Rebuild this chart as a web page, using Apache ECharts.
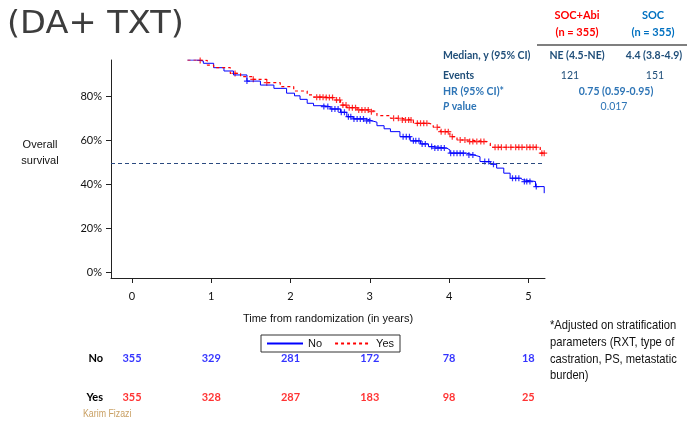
<!DOCTYPE html>
<html><head><meta charset="utf-8">
<script src="https://cdn.jsdelivr.net/npm/echarts@6/dist/echarts.min.js"></script>
<style>html,body{margin:0;padding:0;background:#fff}#c{width:687px;height:421px}</style>
</head><body><div id="c"></div>
<script>
// ---- data ----
const xTicks = [0, 1, 2, 3, 4, 5];
const yTicks = [0, 20, 40, 60, 80];
const noTimes = [0.70,0.84,0.90,1.03,1.16,1.28,1.45,1.62,1.79,1.95,2.05,2.12,2.21,2.29,2.42,2.50,2.63,2.71,2.79,2.96,3.03,3.09,3.18,3.26,3.38,3.51,3.64,3.74,3.80,3.97,4.01,4.22,4.31,4.39,4.52,4.60,4.69,4.77,4.90,4.93,5.09,5.20];
const noSurv  = [96.5,96.0,95.0,93.0,91.5,89.7,86.9,85.1,83.6,81.4,80.2,78.6,76.8,75.7,75.3,74.2,72.7,70.7,69.7,68.8,68.2,66.6,65.2,63.9,61.6,59.7,58.3,57.1,56.4,55.6,54.1,53.3,52.5,50.3,49.1,47.3,45.0,42.7,42.0,41.2,38.9,35.9];
const yesTimes = [0.70,0.86,0.95,1.03,1.24,1.37,1.53,1.70,1.87,2.04,2.21,2.29,2.42,2.54,2.63,2.71,2.84,3.00,3.09,3.26,3.38,3.55,3.74,3.80,3.89,4.01,4.10,4.22,4.48,4.52,5.15,5.21];
const yesSurv  = [96.5,96.3,94.2,93.0,90.4,88.9,87.7,86.2,84.4,82.4,80.6,79.6,79.4,78.3,76.0,74.8,73.8,73.0,71.2,70.0,69.2,67.7,67.2,65.9,63.9,61.6,60.1,59.4,58.6,56.8,54.1,54.1];
const noCensor = [1.45,2.42,2.47,2.52,2.56,2.60,2.64,2.68,2.73,2.76,2.80,2.84,2.88,2.92,2.96,3.00,3.42,3.46,3.50,3.55,3.58,3.62,3.66,3.70,3.78,3.82,3.86,3.90,3.94,4.02,4.06,4.10,4.14,4.18,4.25,4.30,4.45,4.50,4.56,4.80,4.84,4.88,4.95,4.98,5.02,5.10];
const yesCensor = [0.86,1.30,1.53,1.70,2.33,2.37,2.41,2.45,2.49,2.53,2.58,2.62,2.66,2.70,2.74,2.78,2.82,2.86,2.90,2.94,2.98,3.02,3.30,3.36,3.41,3.45,3.49,3.52,3.60,3.64,3.68,3.72,3.85,3.90,3.95,3.99,4.04,4.14,4.20,4.26,4.30,4.35,4.40,4.44,4.58,4.62,4.66,4.72,4.78,4.84,4.88,4.92,4.98,5.02,5.06,5.10,5.17,5.20];
const medianLevel = 49.3;
const riskTimes = [0, 1, 2, 3, 4, 5];
const riskNo  = [355, 329, 281, 172, 78, 18];
const riskYes = [355, 328, 287, 183, 98, 25];
const groupNames = ['No', 'Yes'];
const tableRowLabels = ['Median, y (95% CI)', 'Events', 'HR (95% CI)*', 'P value'];
const tableAbi = ['NE (4.5-NE)', '121'];
const tableSoc = ['4.4 (3.8-4.9)', '151'];
const tableHR = '0.75 (0.59-0.95)';
const tableP = '0.017';
const footnoteLines = ['*Adjusted on stratification', 'parameters (RXT, type of', 'castration, PS, metastatic', 'burden)'];

// ---- build ----
const BLUE = '#0000ff', RED = '#ff0000';
const SANS = '"Liberation Sans",Arial,sans-serif';
const CAL = 'Lato,"Open Sans",sans-serif';
function pairs(t, s) { return t.map((v, i) => [v, s[i]]); }
function survAt(t, times, surv) { let v = surv[0]; for (let i = 0; i < times.length; i++) { if (times[i] <= t) v = surv[i]; } return v; }
const plus = 'path://M2,0h1v2h2v1h-2v2h-1v-2h-2v-1h2z';
function narrowText(x, y, text, size, color, sx) {
  return { type: 'text', x: x, y: y, scaleX: sx, style: { text: text, fill: color, font: size + 'px ' + SANS, verticalAlign: 'middle' } };
}

const chart = echarts.init(document.getElementById('c'), null, { renderer: 'canvas' });
const option = {
  animation: false,
  backgroundColor: '#fff',
  grid: [
    { left: 111, right: 142, top: 60, bottom: 143 },
    { left: 111, right: 142, top: 338.5, height: 78 }
  ],
  xAxis: [
    { type: 'value', gridIndex: 0, min: -0.265, max: 5.21,
      axisLine: { onZero: false, lineStyle: { color: '#222', width: 1 } },
      axisTick: { customValues: xTicks, length: 5, lineStyle: { color: '#222' } },
      axisLabel: { customValues: xTicks, margin: 13, color: '#111', fontSize: 11, fontFamily: CAL },
      splitLine: { show: false },
      name: 'Time from randomization (in years)', nameLocation: 'middle', nameGap: 35,
      nameTextStyle: { color: '#111', fontSize: 11, fontFamily: SANS } },
    { type: 'value', gridIndex: 1, min: -0.265, max: 5.21, show: false }
  ],
  yAxis: [
    { type: 'value', gridIndex: 0, min: -2.7, max: 96.5,
      axisLine: { show: true, onZero: false, lineStyle: { color: '#222', width: 1 } },
      axisTick: { show: true, customValues: yTicks, length: 5, lineStyle: { color: '#222' } },
      axisLabel: { customValues: yTicks, formatter: '{value}%', margin: 9, color: '#111', fontSize: 11, fontFamily: CAL },
      splitLine: { show: false } },
    { type: 'category', gridIndex: 1, data: ['Yes', 'No'],
      axisLine: { show: false }, axisTick: { show: false },
      axisLabel: { margin: 8, color: '#000', fontWeight: 'bold', fontSize: 11, fontFamily: CAL } }
  ],
  legend: {
    data: groupNames, left: 261, top: 335, orient: 'horizontal',
    padding: [3, 6, 3, 5], itemWidth: 36, itemHeight: 10, itemGap: 12,
    borderColor: '#333', borderWidth: 1, borderRadius: 0,
    itemStyle: { opacity: 0 },
    textStyle: { color: '#111', fontSize: 11, fontFamily: SANS }
  },
  series: [
    { name: 'No', type: 'line', step: 'end', xAxisIndex: 0, yAxisIndex: 0,
      data: pairs(noTimes, noSurv), symbol: 'none', lineStyle: { color: BLUE, width: 1 }, itemStyle: { color: BLUE },
      markLine: { silent: true, symbol: 'none', label: { show: false },
        lineStyle: { color: '#2b4a80', width: 1, type: [4, 3] }, data: [{ yAxis: medianLevel }] } },
    { name: 'Yes', type: 'line', step: 'end', xAxisIndex: 0, yAxisIndex: 0,
      data: pairs(yesTimes, yesSurv), symbol: 'none', lineStyle: { color: RED, width: 1.2, type: [3, 3] }, itemStyle: { color: RED } },
    { name: 'noCens', type: 'scatter', xAxisIndex: 0, yAxisIndex: 0, symbol: plus, symbolSize: 6,
      itemStyle: { color: BLUE }, data: noCensor.map(t => [t, survAt(t, noTimes, noSurv)]) },
    { name: 'yesCens', type: 'scatter', xAxisIndex: 0, yAxisIndex: 0, symbol: plus, symbolSize: 6,
      itemStyle: { color: RED }, data: yesCensor.map(t => [t, survAt(t, yesTimes, yesSurv)]) },
    { name: 'riskNo', type: 'scatter', xAxisIndex: 1, yAxisIndex: 1, symbolSize: 0,
      data: riskTimes.map((t, i) => [t, 'No', riskNo[i]]),
      label: { show: true, position: 'inside', formatter: p => p.value[2], color: BLUE, fontWeight: 'bold', fontSize: 11, fontFamily: CAL } },
    { name: 'riskYes', type: 'scatter', xAxisIndex: 1, yAxisIndex: 1, symbolSize: 0,
      data: riskTimes.map((t, i) => [t, 'Yes', riskYes[i]]),
      label: { show: true, position: 'inside', formatter: p => p.value[2], color: RED, fontWeight: 'bold', fontSize: 11, fontFamily: CAL } }
  ],
  graphic: [
    { type: 'text', x: 7, y: 9, scaleX: 1.05, style: { text: '(DA+ TXT)', fill: '#3d3d3d', font: '32px "DejaVu Sans"' } },
    { type: 'text', x: 40, y: 145, style: { text: 'Overall', fill: '#111', font: '11px ' + SANS, align: 'center', verticalAlign: 'middle' } },
    { type: 'text', x: 40, y: 161, style: { text: 'survival', fill: '#111', font: '11px ' + SANS, align: 'center', verticalAlign: 'middle' } },
    { type: 'text', x: 577, y: 15, style: { text: 'SOC+Abi', fill: RED, font: 'bold 11px ' + CAL, align: 'center', verticalAlign: 'middle' } },
    { type: 'text', x: 577, y: 32, style: { text: '(n = 355)', fill: RED, font: 'bold 11px ' + CAL, align: 'center', verticalAlign: 'middle' } },
    { type: 'text', x: 653, y: 15, style: { text: 'SOC', fill: '#0070c0', font: 'bold 11px ' + CAL, align: 'center', verticalAlign: 'middle' } },
    { type: 'text', x: 653, y: 32, style: { text: '(n = 355)', fill: '#0070c0', font: 'bold 11px ' + CAL, align: 'center', verticalAlign: 'middle' } },
    { type: 'line', shape: { x1: 537, y1: 45, x2: 687, y2: 45 }, style: { stroke: '#555', lineWidth: 1.5 } },
    { type: 'text', x: 443, y: 56, style: { text: tableRowLabels[0], fill: '#1f4e79', font: 'bold 10.5px ' + CAL, verticalAlign: 'middle' } },
    { type: 'text', x: 443, y: 76, style: { text: tableRowLabels[1], fill: '#1f4e79', font: 'bold 10.5px ' + CAL, verticalAlign: 'middle' } },
    { type: 'text', x: 443, y: 92, style: { text: tableRowLabels[2], fill: '#2e75b6', font: 'bold 10.5px ' + CAL, verticalAlign: 'middle' } },
    { type: 'text', x: 443, y: 107, style: { text: '{i|P} value', fill: '#2e75b6', font: 'bold 10.5px ' + CAL, verticalAlign: 'middle',
        rich: { i: { fontStyle: 'italic', fontWeight: 'bold', fontSize: 10.5, fontFamily: 'Lato', fill: '#2e75b6' } } } },
    { type: 'text', x: 577, y: 56, style: { text: tableAbi[0], fill: '#1f4e79', font: 'bold 10.5px ' + CAL, align: 'center', verticalAlign: 'middle' } },
    { type: 'text', x: 654, y: 56, style: { text: tableSoc[0], fill: '#1f4e79', font: 'bold 10.5px ' + CAL, align: 'center', verticalAlign: 'middle' } },
    { type: 'text', x: 570, y: 76, style: { text: tableAbi[1], fill: '#1f4e79', font: '10.5px ' + CAL, align: 'center', verticalAlign: 'middle' } },
    { type: 'text', x: 655, y: 76, style: { text: tableSoc[1], fill: '#1f4e79', font: '10.5px ' + CAL, align: 'center', verticalAlign: 'middle' } },
    { type: 'text', x: 616, y: 92, style: { text: tableHR, fill: '#2e75b6', font: 'bold 10.5px ' + CAL, align: 'center', verticalAlign: 'middle' } },
    { type: 'text', x: 614, y: 107, style: { text: tableP, fill: '#2e75b6', font: '10.5px ' + CAL, align: 'center', verticalAlign: 'middle' } },
    narrowText(550, 325, footnoteLines[0], 13, '#111', 0.86),
    narrowText(550, 342, footnoteLines[1], 13, '#111', 0.86),
    narrowText(550, 359, footnoteLines[2], 13, '#111', 0.86),
    narrowText(550, 375, footnoteLines[3], 13, '#111', 0.86),
    narrowText(83, 414, 'Karim Fizazi', 11, '#c9a064', 0.8)
  ]
};
chart.setOption(option);
</script>
</body></html>
